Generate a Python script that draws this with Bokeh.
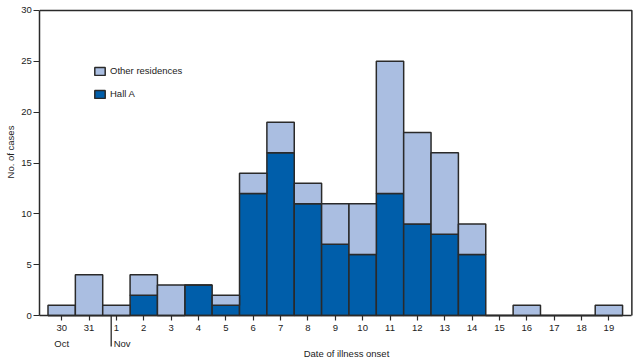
import math
from bokeh.plotting import figure
from bokeh.models import FixedTicker, Range1d, Legend, LegendItem, ColumnDataSource
from bokeh.core.properties import value
from bokeh.embed import file_html
from bokeh.resources import INLINE

# ---- data ----
dates = ["30", "31", "1", "2", "3", "4", "5", "6", "7", "8", "9", "10",
         "11", "12", "13", "14", "15", "16", "17", "18", "19"]
hall_a = [0, 0, 0, 2, 0, 3, 1, 12, 16, 11, 7, 6, 12, 9, 8, 6, 0, 0, 0, 0, 0]
other = [1, 4, 1, 2, 3, 0, 1, 2, 3, 2, 4, 5, 13, 9, 8, 3, 0, 1, 0, 0, 1]
y_ticks = [0, 5, 10, 15, 20, 25, 30]
month_labels = ["Oct", "Nov"]

LIGHT = "#AABEE1"
DARK = "#005EAA"
EDGE = "#2a2a2a"
TXT = "#222222"
FONT = "Liberation Sans"
FS = "9.5px"

# plot-area geometry (data units)
X0, X1 = -0.80, len(dates) - 1 + 0.84   # plotted box left/right
Y0, Y1 = 0, 30

idx = list(range(len(dates)))
src = ColumnDataSource(dict(x=idx, hall=hall_a, other=other))

p = figure(width=641, height=360, output_backend="svg", toolbar_location=None,
           x_range=Range1d(-2.236, 21.192), y_range=Range1d(-4.425, 30.983),
           min_border_left=0, min_border_top=0, min_border_right=0,
           min_border_bottom=0)

rs = p.vbar_stack(["hall", "other"], x="x", width=1.0, source=src,
                  fill_color=[DARK, LIGHT], line_color=EDGE, line_width=1.5)

p.xgrid.visible = False
p.ygrid.visible = False
p.outline_line_color = None
p.background_fill_color = "white"

# box: top and right edges
p.line(x=[X0, X1, X1], y=[Y1, Y1, Y0], line_color=EDGE, line_width=1.5)

# axes
for ax in (p.xaxis[0], p.yaxis[0]):
    ax.axis_line_color = EDGE
    ax.axis_line_width = 1.5
    ax.major_tick_line_color = EDGE
    ax.major_tick_line_width = 1.2
    ax.minor_tick_line_color = None
    ax.major_label_text_font = FONT
    ax.major_label_text_font_size = FS
    ax.major_label_text_color = TXT
    ax.major_tick_in = 0

p.xaxis.fixed_location = Y0
p.xaxis.bounds = (X0, X1)
p.xaxis.ticker = FixedTicker(ticks=idx)
p.xaxis.major_label_overrides = {i: d for i, d in enumerate(dates)}
p.xaxis.major_tick_out = 5
p.xaxis.major_label_standoff = 4

p.yaxis.fixed_location = X0
p.yaxis.bounds = (Y0, Y1)
p.yaxis.ticker = FixedTicker(ticks=y_ticks)
p.yaxis.major_tick_out = 6
p.yaxis.major_label_standoff = 2

# month labels and separator
sep_x = 1.81
p.text(x=[0], y=[-2.75], text=[month_labels[0]], text_align="center",
       text_baseline="middle", text_font=value(FONT), text_font_size=value(FS),
       text_color=TXT)
p.text(x=[sep_x], y=[-2.75], x_offset=2.5, text=[month_labels[1]], text_align="left",
       text_baseline="middle", text_font=value(FONT), text_font_size=value(FS),
       text_color=TXT)
p.segment(x0=[sep_x], y0=[0], x1=[sep_x], y1=[-3.05], line_color=EDGE, line_width=1.3)

# axis titles
p.text(x=[10.41], y=[-3.71], text=["Date of illness onset"], text_align="center",
       text_baseline="middle", text_font=value(FONT), text_font_size=value(FS),
       text_color=TXT)
p.text(x=[-1.87], y=[16.08], text=["No. of cases"], angle=math.pi / 2,
       text_align="center", text_baseline="middle", text_font=value(FONT),
       text_font_size=value(FS), text_color=TXT)

# legend
legend = Legend(items=[LegendItem(label="Other residences", renderers=[rs[1]]),
                       LegendItem(label="Hall A", renderers=[rs[0]])],
                location=(93, 261), orientation="vertical",
                glyph_width=13, glyph_height=10, label_height=10,
                spacing=12, padding=0, margin=0, label_standoff=4,
                border_line_color=None, background_fill_alpha=0,
                label_text_font=FONT, label_text_font_size=FS,
                label_text_color=TXT)
p.add_layout(legend)

open("out.html", "w").write(file_html(p, INLINE))
